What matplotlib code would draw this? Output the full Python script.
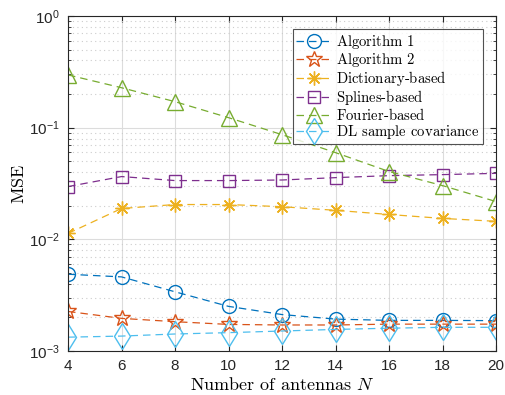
import matplotlib
matplotlib.use('Agg')
import matplotlib.pyplot as plt

antennas = [4, 6, 8, 10, 12, 14, 16, 18, 20]

alg1 = [0.00487, 0.00461, 0.00339, 0.00251, 0.00212, 0.00193, 0.00188, 0.00188, 0.00187]
alg2 = [0.00226, 0.00196, 0.00183, 0.00173, 0.00171, 0.00171, 0.00174, 0.00174, 0.00174]
dictionary = [0.0113, 0.0189, 0.0205, 0.0205, 0.0196, 0.0182, 0.0167, 0.0154, 0.0145]
splines = [0.0297, 0.0365, 0.0336, 0.0336, 0.0340, 0.0357, 0.0372, 0.0380, 0.0390]
fourier = [0.297, 0.228, 0.171, 0.123, 0.0866, 0.0598, 0.0405, 0.0303, 0.0218]
dl_cov = [0.00133, 0.00136, 0.00142, 0.00146, 0.00151, 0.00156, 0.00160, 0.00163, 0.00163]

names = ['Algorithm 1', 'Algorithm 2', 'Dictionary-based', 'Splines-based',
         'Fourier-based', 'DL sample covariance']

plt.rcParams['font.family'] = ['Liberation Sans', 'DejaVu Sans']
plt.rcParams['mathtext.fontset'] = 'dejavusans'

fig = plt.figure(figsize=(5.05, 3.95), dpi=100)
ax = fig.add_axes([0.1347, 0.1114, 0.8475, 0.848])

series = [alg1, alg2, dictionary, splines, fourier, dl_cov]
colors = ['#0072BD', '#D95319', '#EDB120', '#7E2F8E', '#77AC30', '#4DBEEE']
markers = ['o', '*', (8, 2, 0), 's', '^', 'd']
sizes = [10, 12, 10, 9, 12, 13]

for vals, name, c, m, s in zip(series, names, colors, markers, sizes):
    ax.plot(antennas, vals, '--', color=c, lw=0.9, dashes=(6, 4),
            marker=m, ms=s, mew=1.0, mfc='none', mec=c,
            label=r'$\text{' + name + '}$')

ax.set_yscale('log')
ax.set_xlim(4, 20)
ax.set_ylim(1e-3, 1)
ax.set_xticks(antennas)
ax.grid(True, which='major', color='#dcdcdc', lw=0.8)
ax.grid(True, which='minor', axis='y', color='#cccccc', lw=0.8, ls=(0, (1, 3)))
ax.set_axisbelow(True)
ax.tick_params(which='both', direction='in', top=True, right=True,
               labelsize=11, colors='#262626', labelcolor='#262626')
ax.tick_params(which='major', length=4, pad=6)
ax.tick_params(which='minor', length=2)
for sp in ax.spines.values():
    sp.set_color('#262626')
    sp.set_linewidth(0.8)

xl = ax.set_xlabel(r'$\text{Number of antennas }N$', fontsize=13, labelpad=3)
yl = ax.set_ylabel(r'$\text{MSE}$', fontsize=13, labelpad=1)
xl.set_math_fontfamily('cm')
yl.set_math_fontfamily('cm')

leg = ax.legend(loc='upper right', bbox_to_anchor=(0.9696, 0.961), borderaxespad=0,
                fontsize=10.6, frameon=True, fancybox=False, edgecolor='#262626',
                handlelength=2.4, handletextpad=0.3, labelspacing=0.0,
                borderpad=0.25)
leg.get_frame().set_linewidth(0.8)
for t in leg.get_texts():
    t.set_math_fontfamily('cm')

fig.savefig('out.png', dpi=100)
